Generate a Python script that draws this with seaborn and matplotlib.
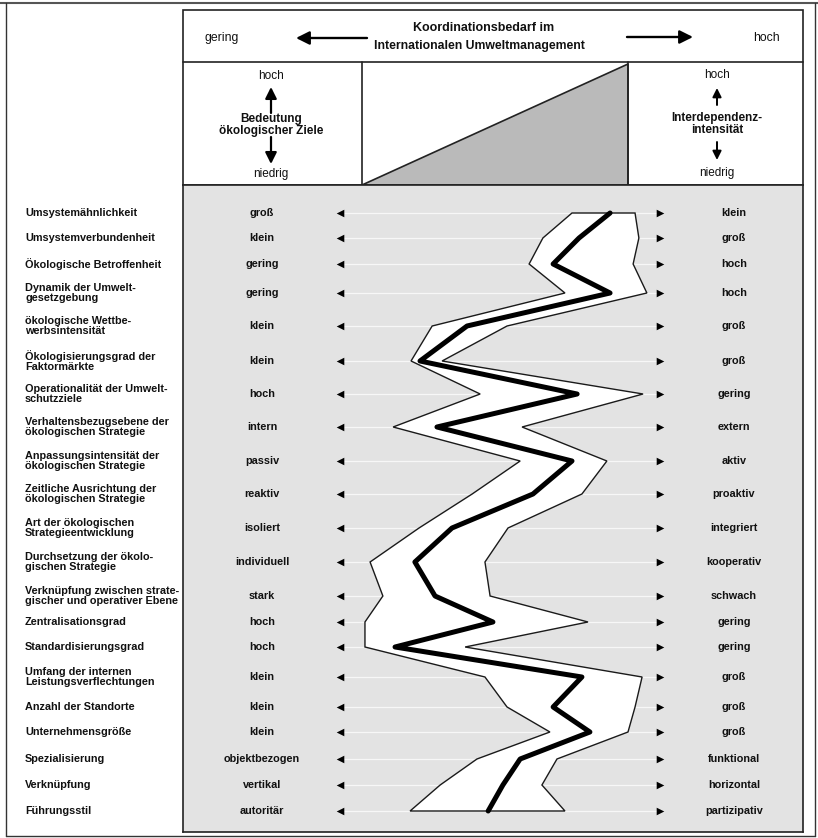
import numpy as np
import pandas as pd
import matplotlib
matplotlib.use("Agg")
import matplotlib.pyplot as plt
import seaborn as sns
from matplotlib.patches import Rectangle, Polygon

sns.set_theme(style="white")
plt.rcParams['font.family'] = ['Liberation Sans', 'DejaVu Sans']

# ---------------- data ----------------
criteria = ["Umsystemähnlichkeit", "Umsystemverbundenheit", "Ökologische Betroffenheit",
            "Dynamik der Umwelt-\ngesetzgebung", "ökologische Wettbe-\nwerbsintensität",
            "Ökologisierungsgrad der\nFaktormärkte", "Operationalität der Umwelt-\nschutzziele",
            "Verhaltensbezugsebene der\nökologischen Strategie",
            "Anpassungsintensität der\nökologischen Strategie",
            "Zeitliche Ausrichtung der\nökologischen Strategie",
            "Art der ökologischen\nStrategieentwicklung", "Durchsetzung der ökolo-\ngischen Strategie",
            "Verknüpfung zwischen strate-\ngischer und operativer Ebene", "Zentralisationsgrad",
            "Standardisierungsgrad", "Umfang der internen\nLeistungsverflechtungen",
            "Anzahl der Standorte", "Unternehmensgröße", "Spezialisierung", "Verknüpfung",
            "Führungsstil"]
low_labels = ["groß", "klein", "gering", "gering", "klein", "klein", "hoch", "intern", "passiv",
              "reaktiv", "isoliert", "individuell", "stark", "hoch", "hoch", "klein", "klein",
              "klein", "objektbezogen", "vertikal", "autoritär"]
high_labels = ["klein", "groß", "hoch", "hoch", "groß", "groß", "gering", "extern", "aktiv",
               "proaktiv", "integriert", "kooperativ", "schwach", "gering", "gering", "groß",
               "groß", "groß", "funktional", "horizontal", "partizipativ"]
# profile scores (0 = left pole, 100 = right pole)
band_low = [72.5, 63.4, 59.1, 70.3, 28.8, 22.2, 43.8, 16.6, 56.3, 41.3, 24.7, 9.4, 13.4, 7.8,
            7.8, 45.3, 52.2, 65.6, 42.8, 31.3, 21.9]
profile = [84.4, 74.7, 66.6, 84.4, 39.7, 25.0, 74.1, 30.3, 72.5, 60.3, 35.0, 23.4, 29.7, 47.8,
           17.2, 75.6, 66.6, 78.1, 56.3, 50.9, 46.3]
band_high = [92.2, 93.4, 91.6, 95.9, 52.2, 31.9, 94.7, 56.9, 83.4, 75.6, 52.5, 45.3, 46.9, 77.5,
             39.1, 94.4, 92.2, 90.0, 67.8, 63.1, 70.3]

# ---------------- layout (pixels) ----------------
W, H = 818, 838
row_y = [213, 238, 264, 293, 326, 361, 394, 427, 461, 494, 528, 562, 596, 622, 647, 677, 707,
         732, 759, 785, 811]
BOX_L, BOX_R, BOX_T, BOX_B = 183, 803, 10, 832
HDR_Y, MID_Y = 62, 185
TRI_L, TRI_R = 362, 628
PX0, PX1 = 340, 660          # pixel x of score 0 and score 100
BG = '#e3e3e3'
FS = 7.8

fig = plt.figure(figsize=(W / 100, H / 100), dpi=100)
fig.patch.set_facecolor('white')

# background/layout axes in pixel coordinates
ax0 = fig.add_axes([0, 0, 1, 1])
ax0.set_xlim(0, W)
ax0.set_ylim(H, 0)
ax0.axis('off')

# outer frame
ax0.plot([0, W], [3, 3], color='#555555', lw=1.5)
ax0.plot([6, 6], [3, 836], color='#333333', lw=1.0)
ax0.plot([815, 815], [3, 836], color='#333333', lw=1.0)
ax0.plot([6, 815], [836, 836], color='#333333', lw=1.0)

# inner box header parts
ax0.add_patch(Rectangle((BOX_L, BOX_T), BOX_R - BOX_L, MID_Y - BOX_T, fill=False, ec='#222222', lw=1.2))
ax0.plot([BOX_L, BOX_R], [HDR_Y, HDR_Y], color='#222222', lw=1.2)
ax0.plot([TRI_L, TRI_L], [HDR_Y, MID_Y], color='#222222', lw=1.2)
ax0.plot([TRI_R, TRI_R], [HDR_Y, MID_Y], color='#222222', lw=1.2)
ax0.add_patch(Polygon([(TRI_L, MID_Y), (TRI_R, HDR_Y + 2), (TRI_R, MID_Y)], closed=True,
                      fc='#bababa', ec='#222222', lw=1.2))

# header texts
ax0.text(222, 38, "gering", ha='center', va='center', fontsize=8.8, color='#111111')
ax0.text(766, 38, "hoch", ha='center', va='center', fontsize=8.8, color='#111111')
ax0.text(484, 28, "Koordinationsbedarf im", ha='center', va='center', fontsize=9,
         fontweight='bold', color='#111111')
ax0.text(479, 46, "Internationalen Umweltmanagement", ha='center', va='center', fontsize=8.8,
         fontweight='bold', color='#111111')
arr = dict(arrowstyle='-|>', lw=1.7, color='black', mutation_scale=20, shrinkA=0, shrinkB=0)
ax0.annotate('', xy=(296, 38), xytext=(367, 38), arrowprops=arr)
ax0.annotate('', xy=(693, 37), xytext=(627, 37), arrowprops=arr)

# second row texts
ax0.text(271, 76, "hoch", ha='center', va='center', fontsize=8.5, color='#111111')
ax0.text(271, 174, "niedrig", ha='center', va='center', fontsize=8.5, color='#111111')
ax0.text(271, 125, "Bedeutung\nökologischer Ziele", ha='center', va='center', fontsize=8.5,
         fontweight='bold', linespacing=0.95, color='#111111')
arr1 = dict(arrowstyle='-|>', lw=1.6, color='black', mutation_scale=17, shrinkA=0, shrinkB=0)
ax0.annotate('', xy=(271, 87), xytext=(271, 113), arrowprops=arr1)
ax0.annotate('', xy=(271, 164), xytext=(271, 137), arrowprops=arr1)

ax0.text(717, 75, "hoch", ha='center', va='center', fontsize=8.5, color='#111111')
ax0.text(717, 173, "niedrig", ha='center', va='center', fontsize=8.5, color='#111111')
ax0.text(717, 124, "Interdependenz-\nintensität", ha='center', va='center', fontsize=8.5,
         fontweight='bold', linespacing=0.95, color='#111111')
arr2 = dict(arrowstyle='-|>', lw=1.4, color='black', mutation_scale=13, shrinkA=0, shrinkB=0)
ax0.annotate('', xy=(717, 88), xytext=(717, 105), arrowprops=arr2)
ax0.annotate('', xy=(717, 160), xytext=(717, 142), arrowprops=arr2)

# criteria labels at left
for lab, y in zip(criteria, row_y):
    ax0.text(25, y, lab, ha='left', va='center', fontsize=FS, fontweight='bold',
             linespacing=0.95, color='#111111')

# ---------------- data axes ----------------
def px_to_score(px):
    return (px - PX0) / (PX1 - PX0) * 100

ax = fig.add_axes([BOX_L / W, 1 - BOX_B / H, (BOX_R - BOX_L) / W, (BOX_B - MID_Y) / H])
ax.set_facecolor(BG)
ax.set_xlim(px_to_score(BOX_L), px_to_score(BOX_R))
ax.set_ylim(BOX_B, MID_Y)
ax.set_xticks([])
ax.set_yticks([])
for s in ax.spines.values():
    s.set_color('#222222')
    s.set_linewidth(1.2)
    s.set_visible(True)

df = pd.DataFrame({"criterion": criteria, "y": row_y, "low": band_low,
                   "profile": profile, "high": band_high,
                   "left_pole": low_labels, "right_pole": high_labels})

# faint guide lines
for y in df["y"]:
    ax.plot([1, 99], [y, y], color='white', lw=0.9, alpha=0.75, zorder=1)

# pole markers
sns.scatterplot(x=[0] * len(df), y=df["y"], marker='<', s=30, color='black', linewidth=0,
                ax=ax, zorder=3, legend=False)
sns.scatterplot(x=[100] * len(df), y=df["y"], marker='>', s=30, color='black', linewidth=0,
                ax=ax, zorder=3, legend=False)

# pole labels
for _, r in df.iterrows():
    ax.text(px_to_score(262), r["y"], r["left_pole"], ha='center', va='center', fontsize=FS,
            fontweight='bold', color='#111111')
    ax.text(px_to_score(734), r["y"], r["right_pole"], ha='center', va='center', fontsize=FS,
            fontweight='bold', color='#111111')

# white band
xs = np.concatenate([df["low"].values, df["high"].values[::-1]])
ys = np.concatenate([df["y"].values, df["y"].values[::-1]])
ax.fill(xs, ys, facecolor='white', edgecolor='#1a1a1a', lw=1.0, zorder=4)

# profile line
sns.lineplot(data=df, x="profile", y="y", sort=False, estimator=None, color='black',
             lw=3.6, ax=ax, zorder=5)
ax.lines[-1].set_solid_joinstyle('round')
ax.set_xlabel('')
ax.set_ylabel('')

fig.savefig("out.png", dpi=100, facecolor='white')
